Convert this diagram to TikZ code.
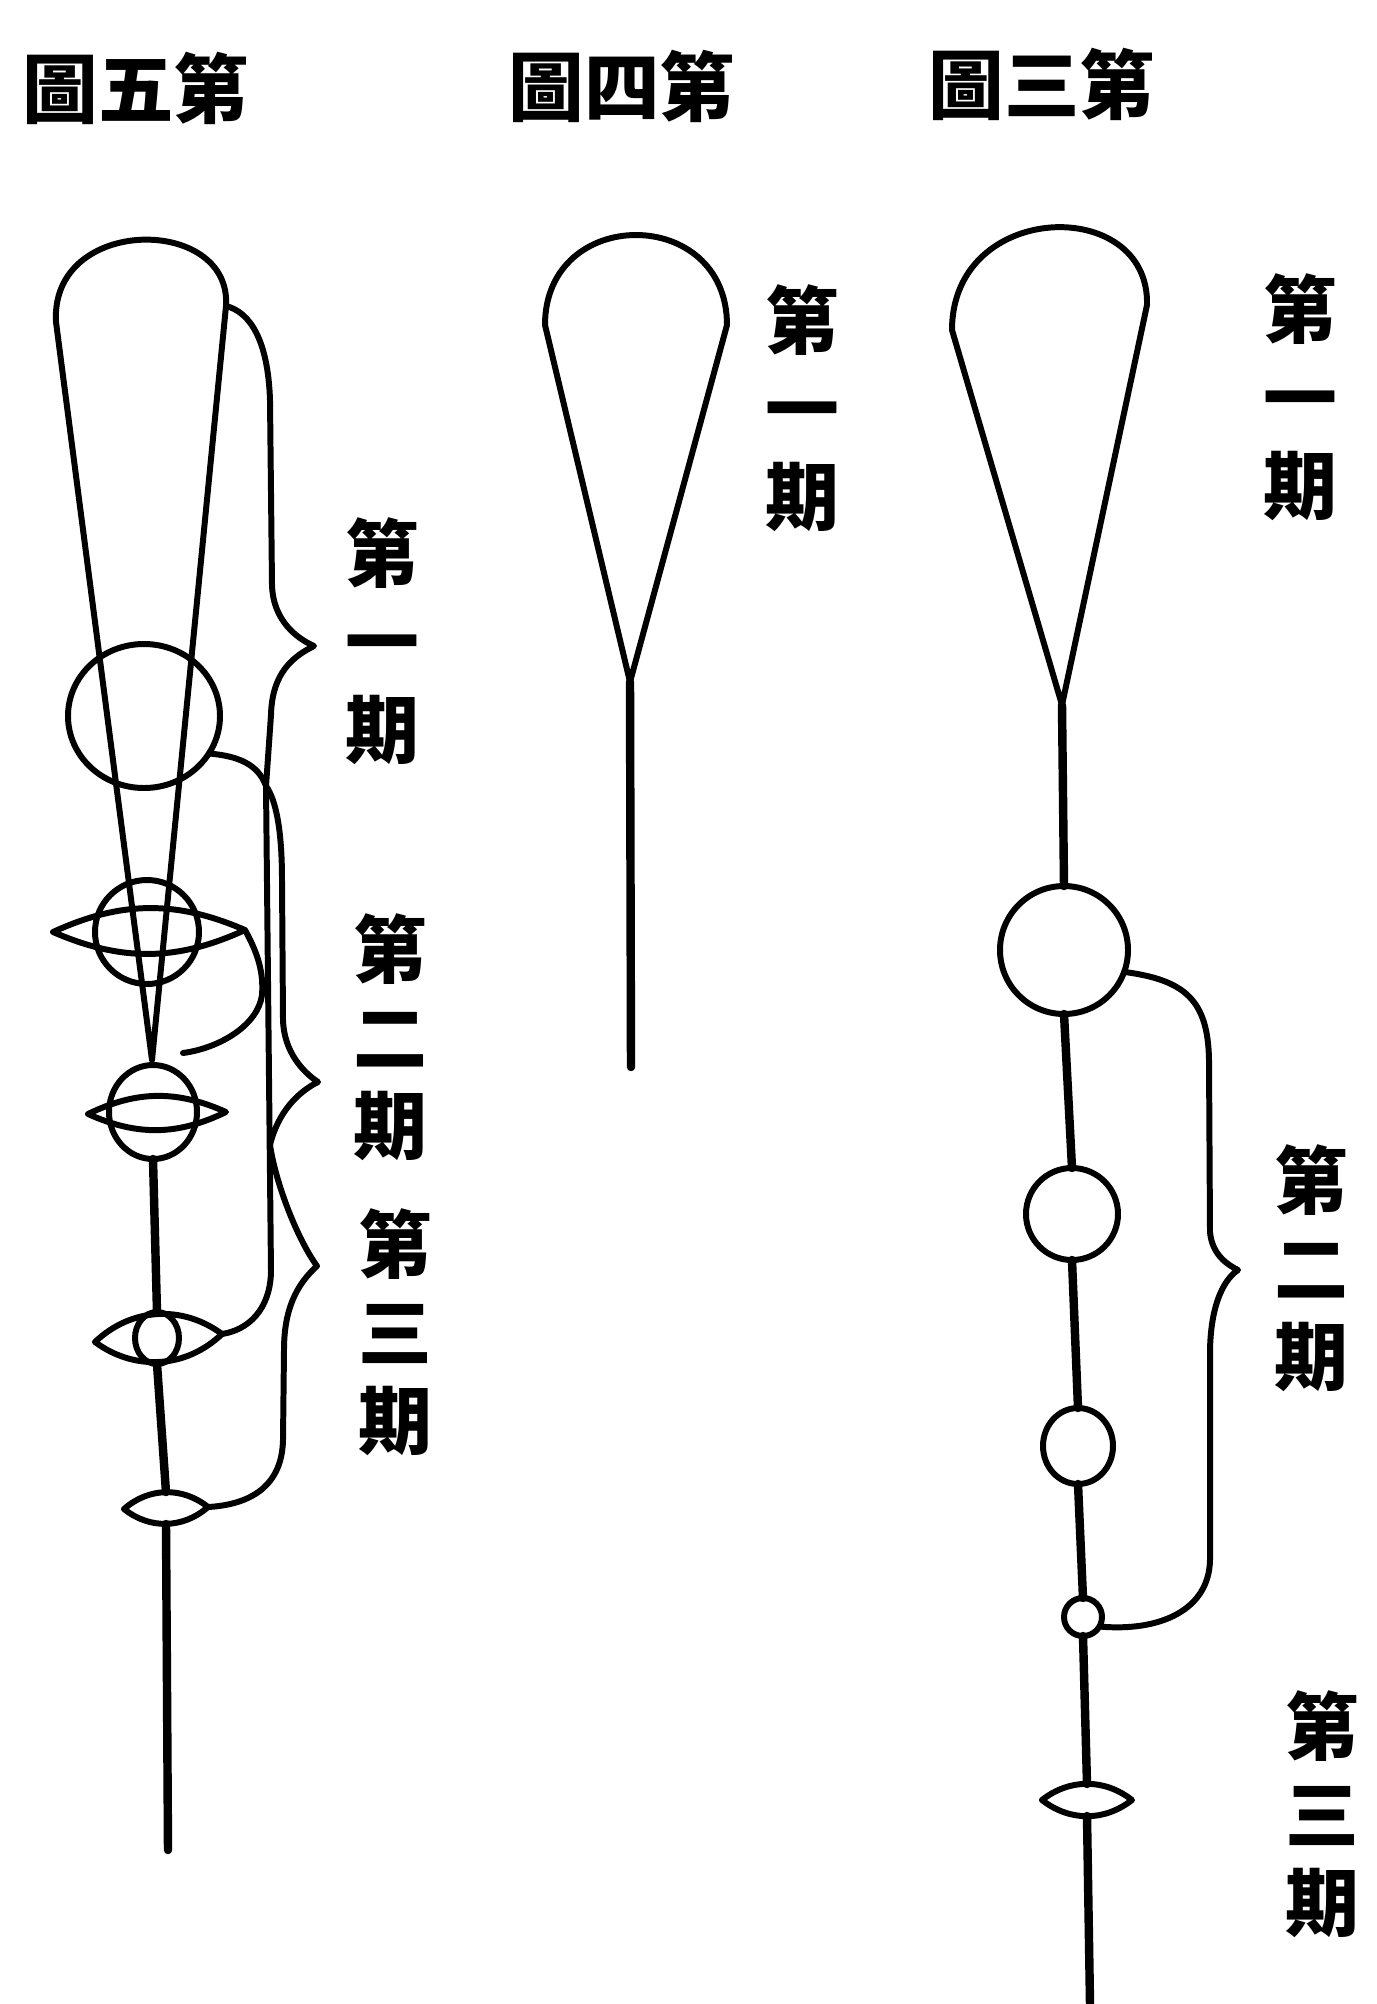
\documentclass[tikz,border=0pt]{standalone}
\usepackage{fontspec}
\newfontfamily\cjk{Noto Sans CJK TC}
\usetikzlibrary{shapes.geometric}
\tikzset{
  xian/.style = {line width=1.7pt, line join=round, line cap=round},% outlines and braces
  gan/.style = {line width=2.4pt, line cap=round},% stems
  qiu/.style = {ellipse, draw, line width=1.7pt, inner sep=0pt, outer sep=0pt},% spheres
  biao/.style = {font=\cjk\bfseries\fontsize{21.5}{24}\selectfont, inner sep=0pt},% titles
  qi/.style = {font=\cjk\bfseries\fontsize{21}{25}\selectfont, align=center,
    inner sep=0pt},% vertical period labels
}

\begin{document}
\begin{tikzpicture}[x=0.1mm,y=-0.1mm]
  \useasboundingbox (0,0) rectangle (1377,2004);
  \node[biao] (t5) at (136,88) {圖五第};
  \node[biao] (t4) at (622,86) {圖四第};
  \node[biao] (t3) at (1042,84) {圖三第};

  %   fig 5
  \coordinate (f5ls) at (56,322);
  \coordinate (f5rs) at (226,306);
  \coordinate (f5tip) at (152,1060);
  \draw[xian] (f5tip) -- (f5ls) .. controls (50,215) and (232,215) .. (f5rs) -- cycle;

  \node[qiu, minimum width=15.2mm, minimum height=14.4mm] (f5o) at (144,716) {};
  \node[qiu, minimum width=10.4mm, minimum height=10.4mm] (f5a) at (147,932) {};
  \node[qiu, minimum width=8.8mm, minimum height=9.4mm] (f5b) at (153,1112) {};
  \node[qiu, minimum width=4.4mm, minimum height=5.2mm] (f5c) at (157,1338) {};

  \coordinate (f5al) at (53,932);   \coordinate (f5ar) at (245,930);
  \coordinate (f5bl) at (88,1114);  \coordinate (f5br) at (226,1112);
  \coordinate (f5cl) at (95,1342);  \coordinate (f5cr) at (222,1334);
  \coordinate (f5dl) at (124,1509); \coordinate (f5dr) at (208,1507);
  \coordinate (f5dt) at (166,1492); \coordinate (f5db) at (166,1524);
  \coordinate (f5end) at (168,1850);

  \coordinate (f5q1) at (314,646);
  \coordinate (f5q2) at (318,1082);
  \coordinate (f5q3) at (317,1266);
  \coordinate (f5j1) at (266,786);
  \coordinate (f5j2) at (270,1145);
  \coordinate (f5hk) at (183,1053);

  \draw[gan] (f5b.south) -- (f5c.north);
  \draw[gan] (f5c.south) -- (f5dt);
  \draw[gan] (f5db) -- (f5end);

  %   braces of fig 5
  \draw[xian] (f5rs) .. controls (250,312) and (268,340) .. (270,400) -- (272,585)
    .. controls (273,620) and (296,638) .. (f5q1)
    .. controls (294,656) and (272,672) .. (271,715) -- (f5j1);
  \draw[xian] (f5o.-30) .. controls (238,756) and (258,764) .. (f5j1);
  \draw[xian] (f5j1) .. controls (276,800) and (282,830) .. (282,880) -- (283,1020)
    .. controls (284,1052) and (303,1072) .. (f5q2)
    .. controls (298,1092) and (278,1112) .. (f5j2);
  \draw[xian] (f5j1) -- (271,1272) .. controls (270,1310) and (248,1330) .. (f5cr);
  \draw[xian] (f5j2) .. controls (276,1185) and (298,1240) .. (f5q3)
    .. controls (296,1285) and (284,1310) .. (284,1350) -- (283,1440)
    .. controls (282,1490) and (245,1505) .. (f5dr);
  \draw[xian] (f5ar) .. controls (256,950) and (264,970) .. (262,995)
    .. controls (258,1025) and (220,1048) .. (f5hk);

  \node[qi] (f5l1) at (382,641) {第\\一\\期};
  \node[qi] (f5l2) at (390,1037) {第\\二\\期};
  \node[qi] (f5l3) at (395,1332) {第\\三\\期};

  %   fig 4
  \coordinate (f4ls) at (545,325);
  \coordinate (f4rs) at (727,325);
  \coordinate (f4tip) at (630,682);
  \coordinate (f4end) at (631,1067);
  \draw[xian] (f4tip) -- (f4ls) .. controls (545,205) and (727,205) .. (f4rs) -- cycle;
  \draw[gan] (f4tip) -- (f4end);
  \node[qi] (f4l1) at (802,408) {第\\一\\期};

  %   fig 3
  \coordinate (f3ls) at (952,330);
  \coordinate (f3rs) at (1147,305);
  \coordinate (f3tip) at (1062,705);
  \draw[xian] (f3tip) -- (f3ls) .. controls (952,200) and (1150,195) .. (f3rs) -- cycle;

  \node[qiu, minimum width=12.8mm, minimum height=12.8mm] (f3e1) at (1064,950) {};
  \node[qiu, minimum width=9.2mm, minimum height=9.2mm] (f3e2) at (1072,1214) {};
  \node[qiu, minimum width=7mm, minimum height=7.6mm] (f3e3) at (1078,1446) {};
  \node[qiu, minimum width=3.8mm, minimum height=3.8mm] (f3e4) at (1083,1617) {};

  \coordinate (f3e5l) at (1042,1800); \coordinate (f3e5r) at (1132,1800);
  \coordinate (f3e5t) at (1087,1784); \coordinate (f3e5b) at (1087,1816);
  \coordinate (f3end) at (1090,2004);
  \coordinate (f3q2) at (1238,1270);

  \draw[gan] (f3tip) -- (f3e1.north);
  \foreach \a/\b in {f3e1/f3e2, f3e2/f3e3, f3e3/f3e4}
    \draw[gan] (\a.south) -- (\b.north);
  \draw[gan] (f3e4.south) -- (f3e5t);
  \draw[gan] (f3e5b) -- (f3end);

  \draw[xian] (f3e1.-20) .. controls (1185,980) and (1208,1000) .. (1209,1060) -- (1210,1232)
    .. controls (1212,1255) and (1228,1265) .. (f3q2)
    .. controls (1226,1278) and (1211,1300) .. (1210,1350) -- (1210,1560)
    .. controls (1209,1610) and (1160,1632) .. (f3e4.-30);

  \node[qi] (f3l1) at (1300,397) {第\\一\\期};
  \node[qi] (f3l2) at (1311,1268) {第\\二\\期};
  \node[qi] (f3l3) at (1322,1814) {第\\三\\期};

  %   rings and lenses
  \foreach \r/\b in {f5a/24, f5b/25, f5c/40, f5d/40, f3e5/38}
    \draw[xian] (\r l) to[bend left=\b] (\r r) to[bend left=\b] (\r l);
\end{tikzpicture}
\end{document}
